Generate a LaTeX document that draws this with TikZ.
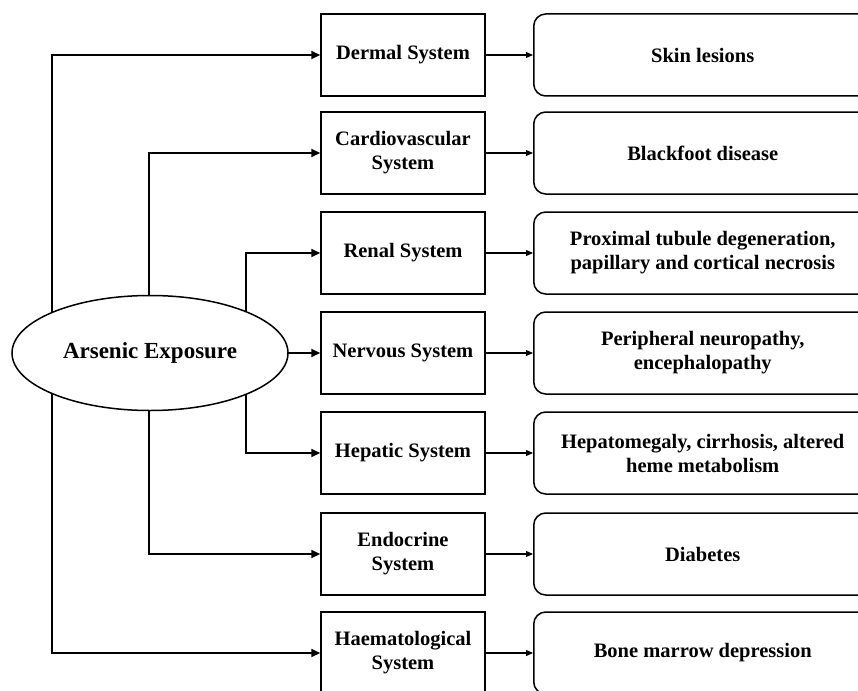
\documentclass[tikz,border=0pt]{standalone}
\usepackage{fontspec}
\setmainfont{Liberation Serif}
\usetikzlibrary{shapes.geometric,arrows.meta,backgrounds}
\begin{document}
\begin{tikzpicture}[x=1pt,y=-1pt,
  sysbox/.style={draw,line width=1.5pt,minimum width=164pt,minimum height=82pt,inner sep=0pt,align=center,font=\fontsize{20.5}{24}\selectfont\bfseries},
  effbox/.style={draw,line width=1.5pt,rounded corners=12pt,minimum width=338pt,minimum height=82pt,inner sep=0pt,align=center,font=\fontsize{20.5}{24}\selectfont\bfseries,anchor=west},
  expell/.style={draw,ellipse,line width=1.5pt,fill=white,minimum width=276pt,minimum height=115pt,inner sep=0pt,font=\fontsize{23}{27}\selectfont\bfseries},
  conn/.style={line width=1.8pt,-{Triangle[length=9pt,width=8pt]}},
  thin/.style={line width=1.2pt,-{Triangle[length=7pt,width=6pt]}}]
\useasboundingbox (0,0) rectangle (858,690);
% middle column
\node[sysbox] (derm) at (403,55) {Dermal System};
\node[sysbox] (card) at (403,153) {Cardiovascular\\System};
\node[sysbox] (ren) at (403,253) {Renal System};
\node[sysbox] (nerv) at (403,353) {Nervous System};
\node[sysbox] (hep) at (403,453) {Hepatic System};
\node[sysbox] (endo) at (403,554) {Endocrine\\System};
\node[sysbox] (haem) at (403,653) {Haematological\\System};
% right column
\node[effbox] (skin) at (533,55) {Skin lesions};
\node[effbox] (black) at (533,153) {Blackfoot disease};
\node[effbox] (prox) at (533,253) {Proximal tubule degeneration,\\papillary and cortical necrosis};
\node[effbox] (peri) at (533,353) {Peripheral neuropathy,\\encephalopathy};
\node[effbox] (hepa) at (533,453) {Hepatomegaly, cirrhosis, altered\\heme metabolism};
\node[effbox] (diab) at (533,554) {Diabetes};
\node[effbox] (bone) at (533,653) {Bone marrow depression};
% ellipse
\node[expell] (ars) at (150,353) {Arsenic Exposure};
\coordinate (c1) at (52,353);
\coordinate (c2) at (149,353);
\coordinate (c3) at (246,353);
\begin{scope}[on background layer]
\draw[conn] (c1) |- (derm.west);
\draw[conn] (c2) |- (card.west);
\draw[conn] (c3) |- (ren.west);
\draw[conn] (c3) |- (hep.west);
\draw[conn] (c2) |- (endo.west);
\draw[conn] (c1) |- (haem.west);
\draw[conn] (ars.center) -- (nerv.west);
\end{scope}
\foreach \a/\b in {derm/skin,card/black,ren/prox,nerv/peri,hep/hepa,endo/diab,haem/bone}
  \draw[thin] (\a.east) -- (\b.west);
\end{tikzpicture}
\end{document}
